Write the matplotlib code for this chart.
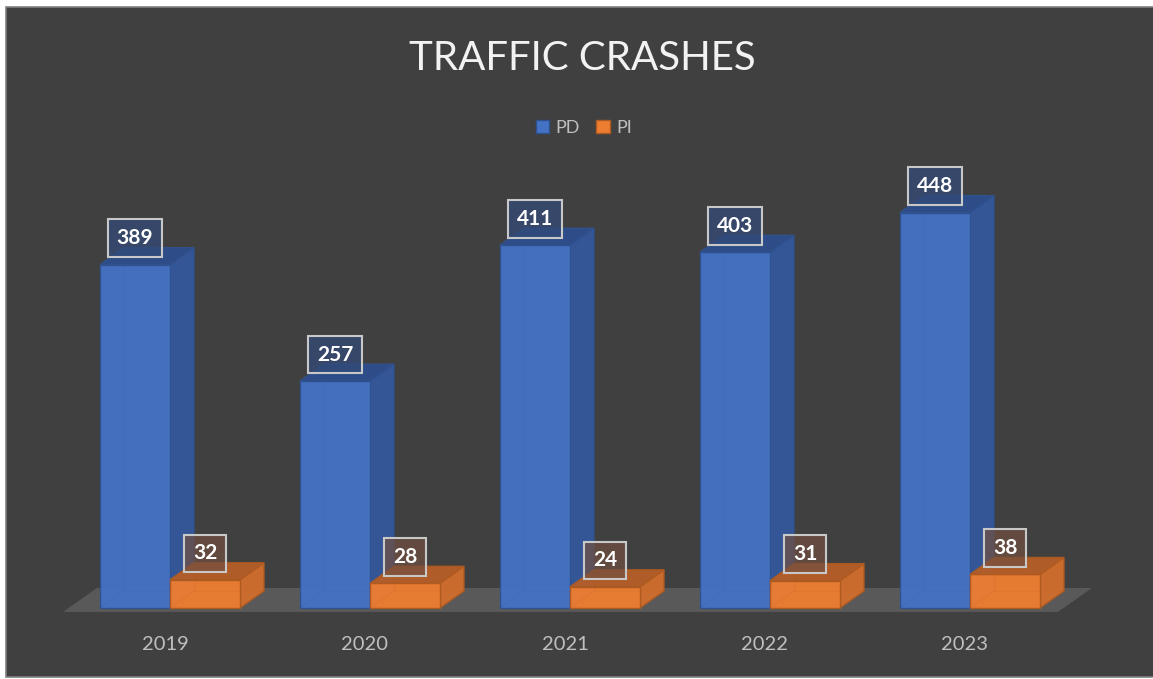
import matplotlib
matplotlib.use("Agg")
import matplotlib.pyplot as plt
from matplotlib.patches import Polygon, Rectangle, Patch

years = ["2019", "2020", "2021", "2022", "2023"]
pd_counts = [389, 257, 411, 403, 448]
pi_counts = [32, 28, 24, 31, 38]

series = [
    # name, values, front, side, top, edge, label fill
    ("PD", pd_counts, "#4472c4", "#35589a", "#2e4e8c", "#2f528f", (0.20, 0.29, 0.47, 0.75)),
    ("PI", pi_counts, "#ed7d31", "#d06d2c", "#b55e28", "#ae5a21", (0.45, 0.31, 0.25, 0.70)),
]

W, H = 1153, 679
fig = plt.figure(figsize=(W / 100, H / 100), dpi=100, facecolor="white")

# chart area with thin grey border
fig.patches.append(Rectangle((6 / W, 2 / H), 1.0, (670 / H), transform=fig.transFigure,
                             facecolor="#404040", edgecolor="#7f7f7f", lw=1.2, zorder=-10))

ax = fig.add_axes([0, 0, 1, 1])
ax.set_zorder(1)
ax.set_axis_off()
ax.patch.set_alpha(0)

# pixel mapping: group centre x = 170 + 200*i, value 0 at y=608, 0.8825 px per unit
xscale, yscale = 200.0, 0.8825
ax.set_xlim(-170 / xscale, (W - 170) / xscale)
ax.set_ylim((608 - H) / yscale, 608 / yscale)

bw = 0.35          # bar width
dx = 24 / xscale   # depth offset
dy = 17 / yscale

# floor
fdx, fdy = 34 / xscale, 24 / yscale
f0, f1, fy = -0.535, 4.44, -4.5
ax.add_patch(Polygon([(f0, fy), (f1, fy), (f1 + fdx, fy + fdy), (f0 + fdx, fy + fdy)],
                     closed=True, facecolor="#595959", edgecolor="none", zorder=1))


def draw_bar(x0, h, front, side, top, edge, z):
    x1 = x0 + bw
    faces = [
        ([(x1, 0), (x1 + dx, dy), (x1 + dx, h + dy), (x1, h)], side),
        ([(x0, 0), (x1, 0), (x1, h), (x0, h)], front),
        ([(x0, h), (x1, h), (x1 + dx, h + dy), (x0 + dx, h + dy)], top),
    ]
    for pts, col in faces:
        ax.add_patch(Polygon(pts, closed=True, facecolor=col, edgecolor=edge,
                             lw=1.0, alpha=0.96, zorder=z))
    # faint hidden back edges seen through the glassy faces
    ax.plot([x0, x0 + dx, x1 + dx], [0, dy, dy], color=edge, lw=0.8, alpha=0.1, zorder=z + 0.5)
    ax.plot([x0 + dx, x0 + dx], [dy, h + dy], color=edge, lw=0.8, alpha=0.1, zorder=z + 0.5)


for i in range(len(years)):
    for k, (name, vals, front, side, top, edge, lab) in enumerate(series):
        x0 = i - bw + k * bw
        draw_bar(x0, vals[i], front, side, top, edge, 2 + i * 2 + k)

for i in range(len(years)):
    for k, (name, vals, front, side, top, edge, lab) in enumerate(series):
        x0 = i - bw + k * bw
        ax.text(x0 + bw / 2, vals[i] + 30, str(vals[i]), ha="center", va="center",
                fontsize=15, fontweight="bold", color="white", family="Lato", zorder=30,
                bbox=dict(boxstyle="square,pad=0.42", facecolor=lab, edgecolor="#c8c8c8", lw=1.5))

for i, y in enumerate(years):
    ax.text(i - 0.025, -40.8, y, ha="center", va="center", fontsize=14.5,
            color="#bfbfbf", family="Lato")

fig.text(582 / W, 1 - 58 / H, "TRAFFIC CRASHES", ha="center", va="center",
         fontsize=29, color="#f2f2f2", family="Lato")

handles = [Patch(facecolor=s[2], edgecolor=s[5], label=s[0]) for s in series]
fig.legend(handles=handles, loc="center", bbox_to_anchor=(584 / W, 1 - 128 / H), ncol=2,
           frameon=False, labelcolor="#bfbfbf", prop={"family": "Lato", "size": 13},
           handlelength=0.75, handleheight=0.75, handletextpad=0.35, columnspacing=0.9)

fig.savefig("out.png", dpi=100, facecolor=fig.get_facecolor())
